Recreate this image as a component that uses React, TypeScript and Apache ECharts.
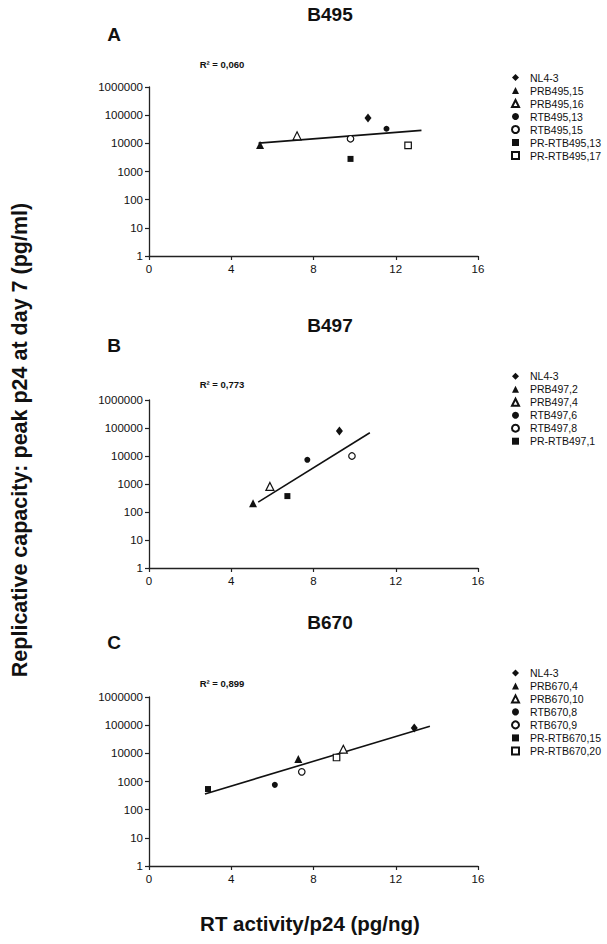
import React, { useEffect, useRef } from "react";
import * as echarts from "echarts";

// ---- Data ----
const xTicks = [0, 4, 8, 12, 16];
const yTickLabels = ["1", "10", "100", "1000", "10000", "100000", "1000000"];

const panelTitles = ["B495", "B497", "B670"];
const panelLetters = ["A", "B", "C"];
const rSquared = ["0,060", "0,773", "0,899"];

const namesA = ["NL4-3", "PRB495,15", "PRB495,16", "RTB495,13", "RTB495,15", "PR-RTB495,13", "PR-RTB495,17"];
const xA = [10.65, 5.4, 7.2, 11.55, 9.8, 9.8, 12.6];
const yA = [79000, 8800, 18500, 33000, 14500, 2800, 8400];
const fitA = [[5.33, 10200], [13.25, 28800]];

const namesB = ["NL4-3", "PRB497,2", "PRB497,4", "RTB497,6", "RTB497,8", "PR-RTB497,1"];
const xB = [9.26, 5.06, 5.88, 7.7, 9.87, 6.73];
const yB = [78000, 205, 820, 7300, 10000, 370];
const fitB = [[5.31, 224], [10.74, 67600]];

const namesC = ["NL4-3", "PRB670,4", "PRB670,10", "RTB670,8", "RTB670,9", "PR-RTB670,15", "PR-RTB670,20"];
const xC = [12.9, 7.26, 9.45, 6.12, 7.43, 2.87, 9.12];
const yC = [79000, 6300, 14000, 760, 2200, 540, 7100];
const fitC = [[2.72, 363], [13.66, 91200]];

const xAxisTitle = "RT activity/p24 (pg/ng)";
const yAxisTitle = "Replicative capacity: peak p24 at day 7 (pg/ml)";

// ---- Styles ----
const FONT = "'Liberation Sans', Arial, sans-serif";
const INK = "#111";
const markerStyles = [
  { symbol: "diamond", size: [7, 9], fill: INK },
  { symbol: "triangle", size: 8, fill: INK },
  { symbol: "triangle", size: 8, fill: "#fff" },
  { symbol: "circle", size: 6, fill: INK },
  { symbol: "circle", size: 6.5, fill: "#fff" },
  { symbol: "rect", size: 6, fill: INK },
  { symbol: "rect", size: 6.5, fill: "#fff" },
];

const grids = [
  { top: 87, height: 169 },
  { top: 400, height: 168 },
  { top: 697, height: 169 },
];
const titleY = [14, 325, 622];
const letterY = [34, 345, 642];
const r2Y = [64, 384, 683];
const legendTop = [72, 370.7, 667.4];

const panels = [
  { names: namesA, xs: xA, ys: yA, fit: fitA },
  { names: namesB, xs: xB, ys: yB, fit: fitB },
  { names: namesC, xs: xC, ys: yC, fit: fitC },
];

export default function App() {
  const ref = useRef<HTMLDivElement>(null);

  useEffect(() => {
    if (!ref.current) return;
    const chart = echarts.init(ref.current, undefined, { renderer: "svg" });

    const series: any[] = [];
    panels.forEach((p, pi) => {
      series.push({
        type: "line",
        name: "fit" + pi,
        xAxisIndex: pi,
        yAxisIndex: pi,
        data: p.fit,
        showSymbol: false,
        symbol: "none",
        lineStyle: { color: INK, width: 1.6 },
        z: 1,
        silent: true,
      });
      p.names.forEach((n, i) => {
        const m = markerStyles[i];
        series.push({
          type: "scatter",
          name: n,
          xAxisIndex: pi,
          yAxisIndex: pi,
          symbol: m.symbol,
          symbolSize: m.size,
          data: [[p.xs[i], p.ys[i]]],
          itemStyle: { color: m.fill, borderColor: INK, borderWidth: m.fill === "#fff" ? 1.2 : 0, opacity: 1 },
          z: 3,
        });
      });
    });

    const graphic: any[] = [];
    panels.forEach((_, pi) => {
      graphic.push({
        type: "text", x: 330, y: titleY[pi],
        style: { text: panelTitles[pi], font: `bold 19px ${FONT}`, fill: INK, textAlign: "center", textVerticalAlign: "middle" },
      });
      graphic.push({
        type: "text", x: 114, y: letterY[pi],
        style: { text: panelLetters[pi], font: `bold 19px ${FONT}`, fill: INK, textAlign: "center", textVerticalAlign: "middle" },
      });
      graphic.push({
        type: "text", x: 222, y: r2Y[pi],
        style: { text: "R² = " + rSquared[pi], font: `bold 9.5px ${FONT}`, fill: INK, textAlign: "center", textVerticalAlign: "middle" },
      });
    });
    graphic.push({
      type: "text", x: 310, y: 923,
      style: { text: xAxisTitle, font: `bold 20.5px ${FONT}`, fill: INK, textAlign: "center", textVerticalAlign: "middle" },
    });
    graphic.push({
      type: "text", x: 20, y: 440, rotation: Math.PI / 2,
      style: { text: yAxisTitle, font: `bold 21.5px ${FONT}`, fill: INK, textAlign: "center", textVerticalAlign: "middle" },
    });

    const axisLine = { show: true, lineStyle: { color: "#222", width: 1.3 } };
    const axisTick = { show: true, length: 4, lineStyle: { color: "#222", width: 1.2 } };

    chart.setOption({
      animation: false,
      backgroundColor: "#fff",
      textStyle: { fontFamily: FONT },
      grid: grids.map((g) => ({ left: 149, width: 329, top: g.top, height: g.height })),
      xAxis: grids.map((_, i) => ({
        type: "value",
        gridIndex: i,
        min: xTicks[0],
        max: xTicks[xTicks.length - 1],
        interval: xTicks[1] - xTicks[0],
        axisLine,
        axisTick,
        splitLine: { show: false },
        axisLabel: { color: INK, fontSize: 11.5, margin: 7, fontFamily: FONT },
      })),
      yAxis: grids.map((_, i) => ({
        type: "log",
        logBase: 10,
        gridIndex: i,
        min: Number(yTickLabels[0]),
        max: Number(yTickLabels[yTickLabels.length - 1]),
        axisLine,
        axisTick,
        splitLine: { show: false },
        minorTick: { show: false },
        axisLabel: {
          color: INK, fontSize: 11.5, margin: 6, fontFamily: FONT,
          formatter: (v: number) => String(Math.round(v)),
        },
      })),
      legend: panels.map((p, pi) => ({
        data: p.names,
        orient: "vertical",
        left: 511,
        top: legendTop[pi],
        padding: 0,
        itemWidth: 7,
        itemHeight: 7,
        itemGap: 2,
        selectedMode: false,
        textStyle: { fontSize: 10.5, color: INK, fontFamily: FONT, padding: [0, 0, 0, 6] },
      })),
      graphic,
      series,
    });

    return () => chart.dispose();
  }, []);

  return (
    <div
      ref={ref}
      style={{ position: "fixed", left: 0, top: 0, width: 607, height: 944, background: "#fff" }}
    />
  );
}
